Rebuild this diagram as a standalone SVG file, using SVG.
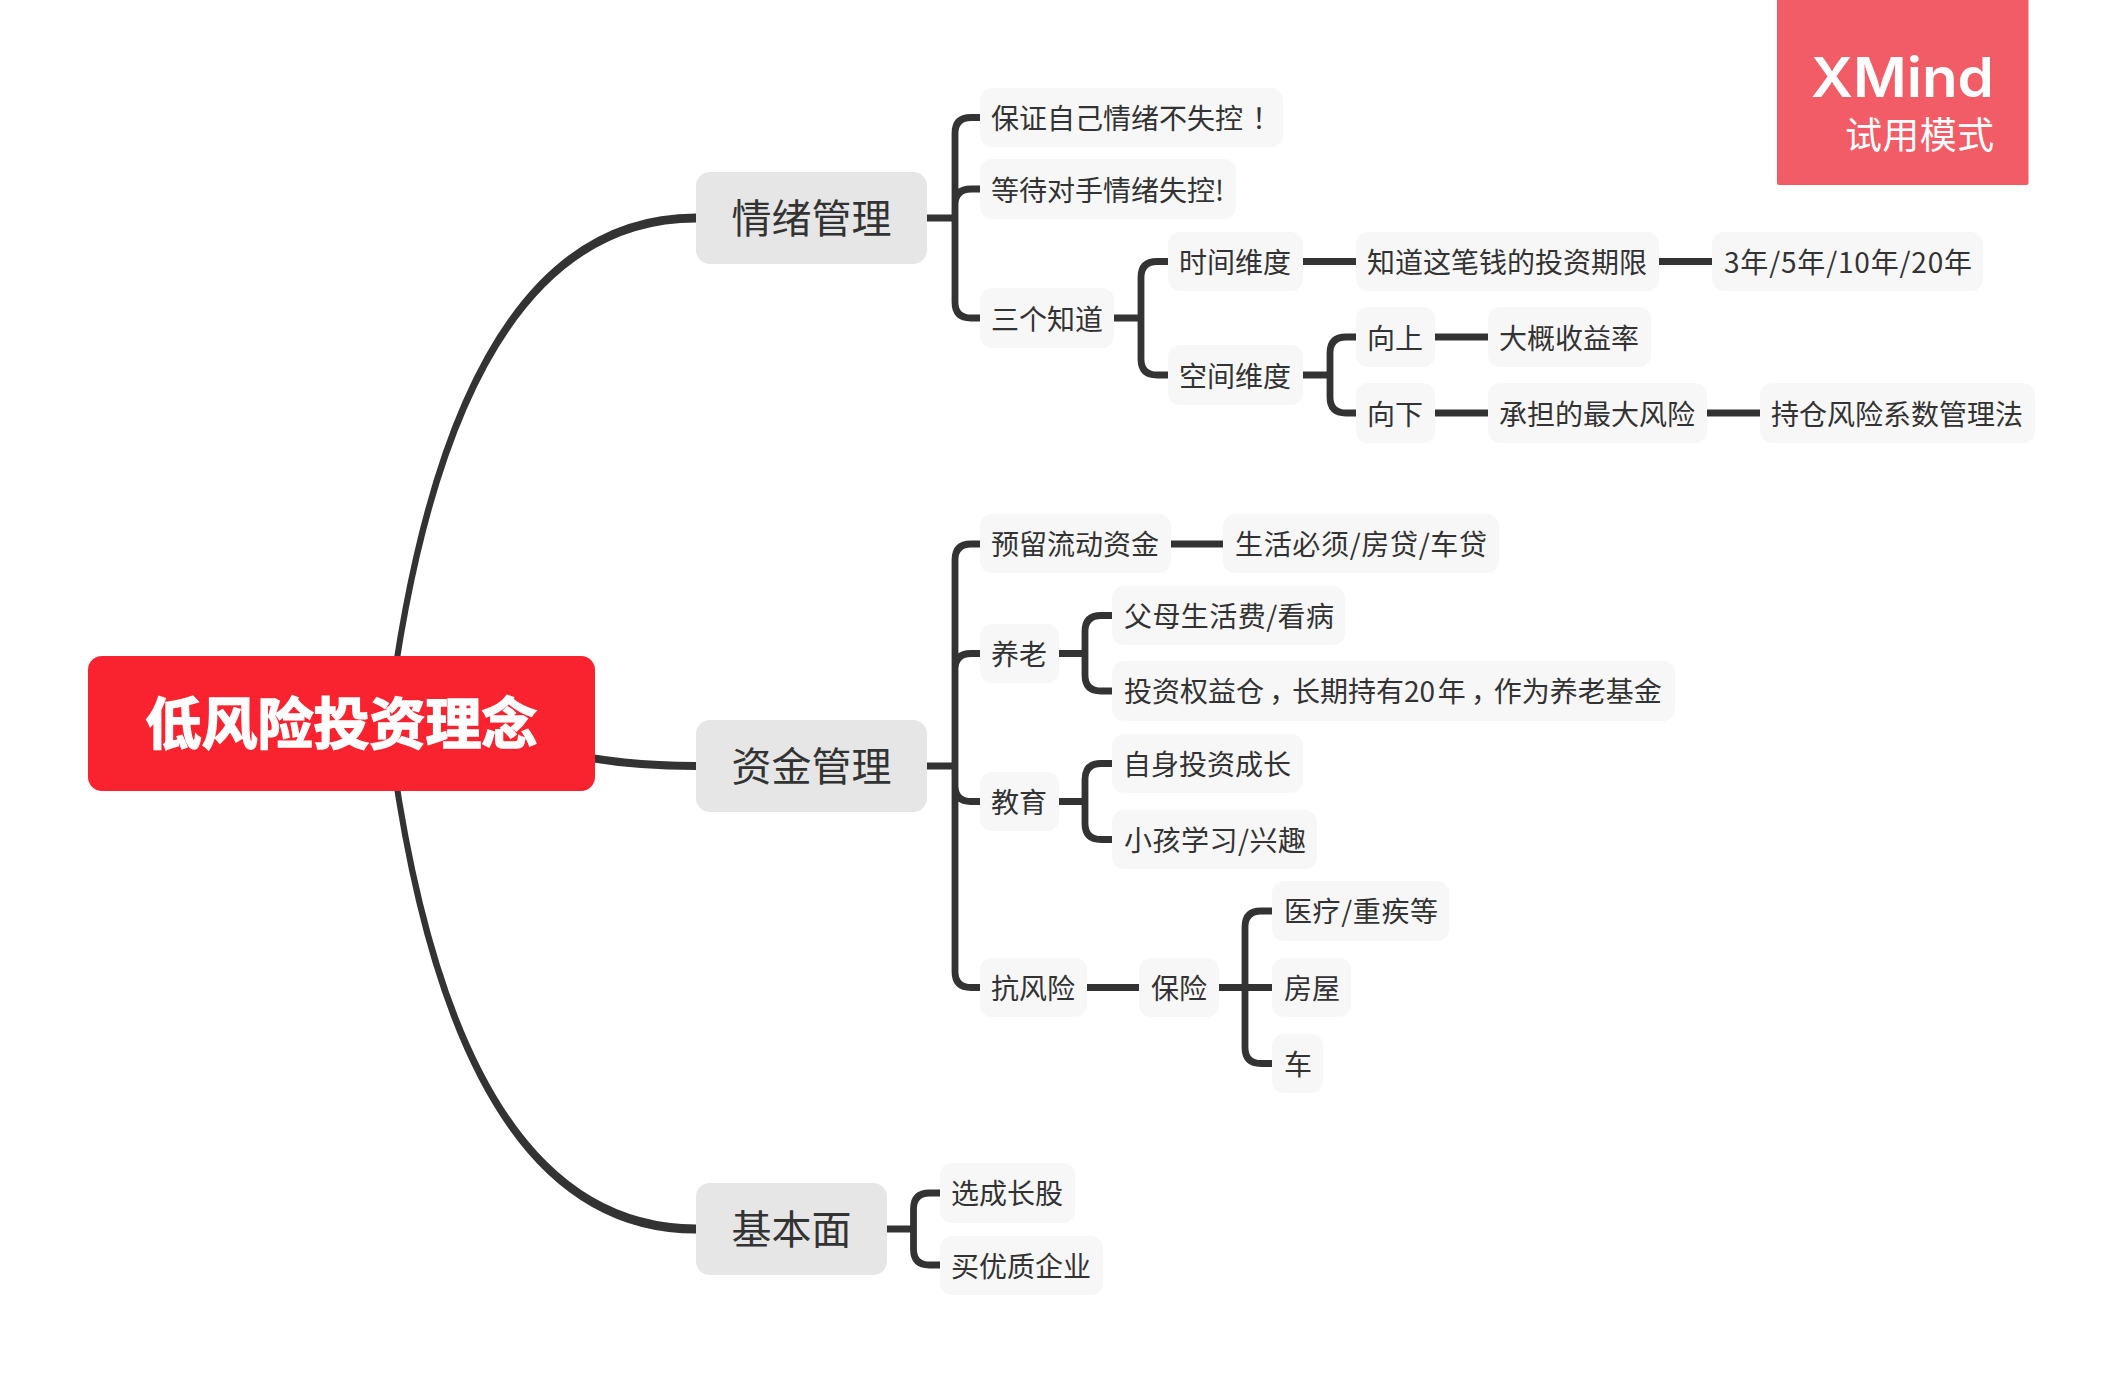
<svg xmlns="http://www.w3.org/2000/svg" width="2123" height="1383" viewBox="0 0 2123 1383">
<style>
text{font-family:"Noto Sans CJK SC","Noto Sans",sans-serif;fill:#333}
.s{fill:#f7f7f7}
.m{fill:#e6e6e6}
.s+text{font-size:28px}
.m+text{font-size:40px}
.p{font-feature-settings:"palt"}
#conn path{fill:none;stroke:#333;stroke-width:6.800}
#conn path.c{fill:#333;stroke:none}
#conn path.d{stroke-width:8}
</style>
<rect width="2123" height="1383" fill="#fff"/>
<g id="conn">
<path class="c" d="M385,723Q447,213.500 696,213.500V222.500Q453,222.500 391,723Z"/>
<path class="d" d="M560,752Q620,766 696,766"/>
<path class="c" d="M385,723Q447,1233.500 696,1233.500V1224.500Q453,1224.500 391,723Z"/>
<path d="M927,218H955M955,218V133.500Q955,117.500 971,117.500H980M955,218V205Q955,189 971,189H980M955,218V302Q955,318 971,318H980"/>
<path d="M1114,318H1141M1141,318V277.500Q1141,261.500 1157,261.500H1168M1141,318V359Q1141,375 1157,375H1168"/>
<path d="M1303,261.500H1356M1659,261.500H1712"/>
<path d="M1303,375H1330M1330,375V353Q1330,337 1346,337H1356M1330,375V397Q1330,413 1346,413H1356"/>
<path d="M1435,337H1488M1435,413H1488M1707,413H1760"/>
<path d="M927,766H955M955,766V560Q955,544 971,544H980M955,766V669.500Q955,653.500 971,653.500H980M955,766V785.500Q955,801.500 971,801.500H980M955,766V971.500Q955,987.500 971,987.500H980"/>
<path d="M1171,544H1223"/>
<path d="M1059,653.500H1085M1085,653.500V631.500Q1085,615.500 1101,615.500H1112M1085,653.500V675Q1085,691 1101,691H1112"/>
<path d="M1059,801.500H1085M1085,801.500V779.500Q1085,763.500 1101,763.500H1112M1085,801.500V823.500Q1085,839.500 1101,839.500H1112"/>
<path d="M1087,987.500H1139M1219,987.500H1272"/>
<path d="M1245,987.500V927Q1245,911 1261,911H1272M1245,987.500V1047.500Q1245,1063.500 1261,1063.500H1272"/>
<path d="M887,1229H913.500M913.500,1229V1209Q913.500,1193 929.500,1193H940M913.500,1229V1249Q913.500,1265 929.500,1265H940"/>
</g>
<g id="root"><rect x="88" y="656" width="507" height="135" rx="14" fill="#f9232f"/><text x="341.500" y="744" text-anchor="middle" font-size="56" font-weight="700" stroke="#fff" stroke-width="1.500" style="fill:#fff">低风险投资理念</text></g>
<g id="t1"><rect class="m" x="696" y="172" width="231" height="92" rx="14"/><text x="731.500" y="233">情绪管理</text></g>
<g id="t2"><rect class="m" x="696" y="720" width="231" height="92" rx="14"/><text x="731.500" y="781">资金管理</text></g>
<g id="t3"><rect class="m" x="696" y="1183" width="191" height="92" rx="14"/><text x="731.500" y="1244">基本面</text></g>
<g id="n1"><rect class="s" x="980" y="88" width="303" height="59" rx="12"/><text x="991" y="129">保证自己情绪不失控<tspan dx="9">！</tspan></text></g>
<g id="n2"><rect class="s" x="980" y="159" width="256" height="60" rx="12"/><text x="991" y="200.500">等待对手情绪失控!</text></g>
<g id="n3"><rect class="s" x="980" y="288" width="134" height="60" rx="12"/><text x="991" y="329.500">三个知道</text></g>
<g id="n4"><rect class="s" x="1168" y="232" width="135" height="59" rx="12"/><text x="1179" y="273">时间维度</text></g>
<g id="n5"><rect class="s" x="1356" y="232" width="303" height="59" rx="12"/><text x="1367" y="273">知道这笔钱的投资期限</text></g>
<g id="n6"><rect class="s" x="1712" y="232" width="271" height="59" rx="12"/><text x="1724" y="273" textLength="248">3年/5年/10年/20年</text></g>
<g id="n7"><rect class="s" x="1168" y="345" width="135" height="60" rx="12"/><text x="1179" y="386.500">空间维度</text></g>
<g id="n8"><rect class="s" x="1356" y="307" width="79" height="60" rx="12"/><text x="1367" y="348.500">向上</text></g>
<g id="n9"><rect class="s" x="1488" y="307" width="163" height="60" rx="12"/><text x="1499" y="348.500">大概收益率</text></g>
<g id="n10"><rect class="s" x="1356" y="383" width="79" height="60" rx="12"/><text x="1367" y="424.500">向下</text></g>
<g id="n11"><rect class="s" x="1488" y="383" width="219" height="60" rx="12"/><text x="1499" y="424.500">承担的最大风险</text></g>
<g id="n12"><rect class="s" x="1760" y="383" width="275" height="60" rx="12"/><text x="1771" y="424.500">持仓风险系数管理法</text></g>
<g id="n13"><rect class="s" x="980" y="514" width="191" height="59" rx="12"/><text x="991" y="555">预留流动资金</text></g>
<g id="n14"><rect class="s" x="1223" y="514" width="276" height="59" rx="12"/><text x="1235" y="555" textLength="252">生活必须/房贷/车贷</text></g>
<g id="n15"><rect class="s" x="980" y="624" width="79" height="59" rx="12"/><text x="991" y="665">养老</text></g>
<g id="n16"><rect class="s" x="1112" y="586" width="233" height="59" rx="12"/><text x="1124" y="627" textLength="210">父母生活费/看病</text></g>
<g id="n17"><rect class="s" x="1112" y="661" width="563" height="60" rx="12"/><text x="1124" y="702">投资权益仓<tspan class="p" dx="7">，</tspan><tspan dx="7">长期持有20</tspan><tspan dx="2.700">年</tspan><tspan class="p" dx="7">，</tspan><tspan dx="7">作为养老基金</tspan></text></g>
<g id="n18"><rect class="s" x="980" y="772" width="79" height="59" rx="12"/><text x="991" y="813">教育</text></g>
<g id="n19"><rect class="s" x="1112" y="734" width="191" height="59" rx="12"/><text x="1123" y="775">自身投资成长</text></g>
<g id="n20"><rect class="s" x="1112" y="810" width="205" height="59" rx="12"/><text x="1124" y="851" textLength="182">小孩学习/兴趣</text></g>
<g id="n21"><rect class="s" x="980" y="958" width="107" height="59" rx="12"/><text x="991" y="999">抗风险</text></g>
<g id="n22"><rect class="s" x="1139" y="958" width="80" height="59" rx="12"/><text x="1151" y="999">保险</text></g>
<g id="n23"><rect class="s" x="1272" y="881" width="177" height="60" rx="12"/><text x="1284" y="922" textLength="154">医疗/重疾等</text></g>
<g id="n24"><rect class="s" x="1272" y="958" width="79" height="59" rx="12"/><text x="1284" y="999">房屋</text></g>
<g id="n25"><rect class="s" x="1272" y="1034" width="51" height="59" rx="12"/><text x="1284" y="1075">车</text></g>
<g id="n26"><rect class="s" x="940" y="1163" width="135" height="60" rx="12"/><text x="951" y="1204">选成长股</text></g>
<g id="n27"><rect class="s" x="940" y="1236" width="163" height="59" rx="12"/><text x="951" y="1277">买优质企业</text></g>
<g id="mark"><rect x="1777" y="-4" width="251.500" height="189" rx="2" fill="#f25c66"/><text x="1811" y="97" font-size="55" font-weight="600" textLength="183" lengthAdjust="spacingAndGlyphs" style="font-family:Inter,'Liberation Sans',sans-serif;fill:#fff">XMind</text><text x="1845" y="148.500" font-size="37" textLength="149" style="fill:#fff">试用模式</text></g>
</svg>
